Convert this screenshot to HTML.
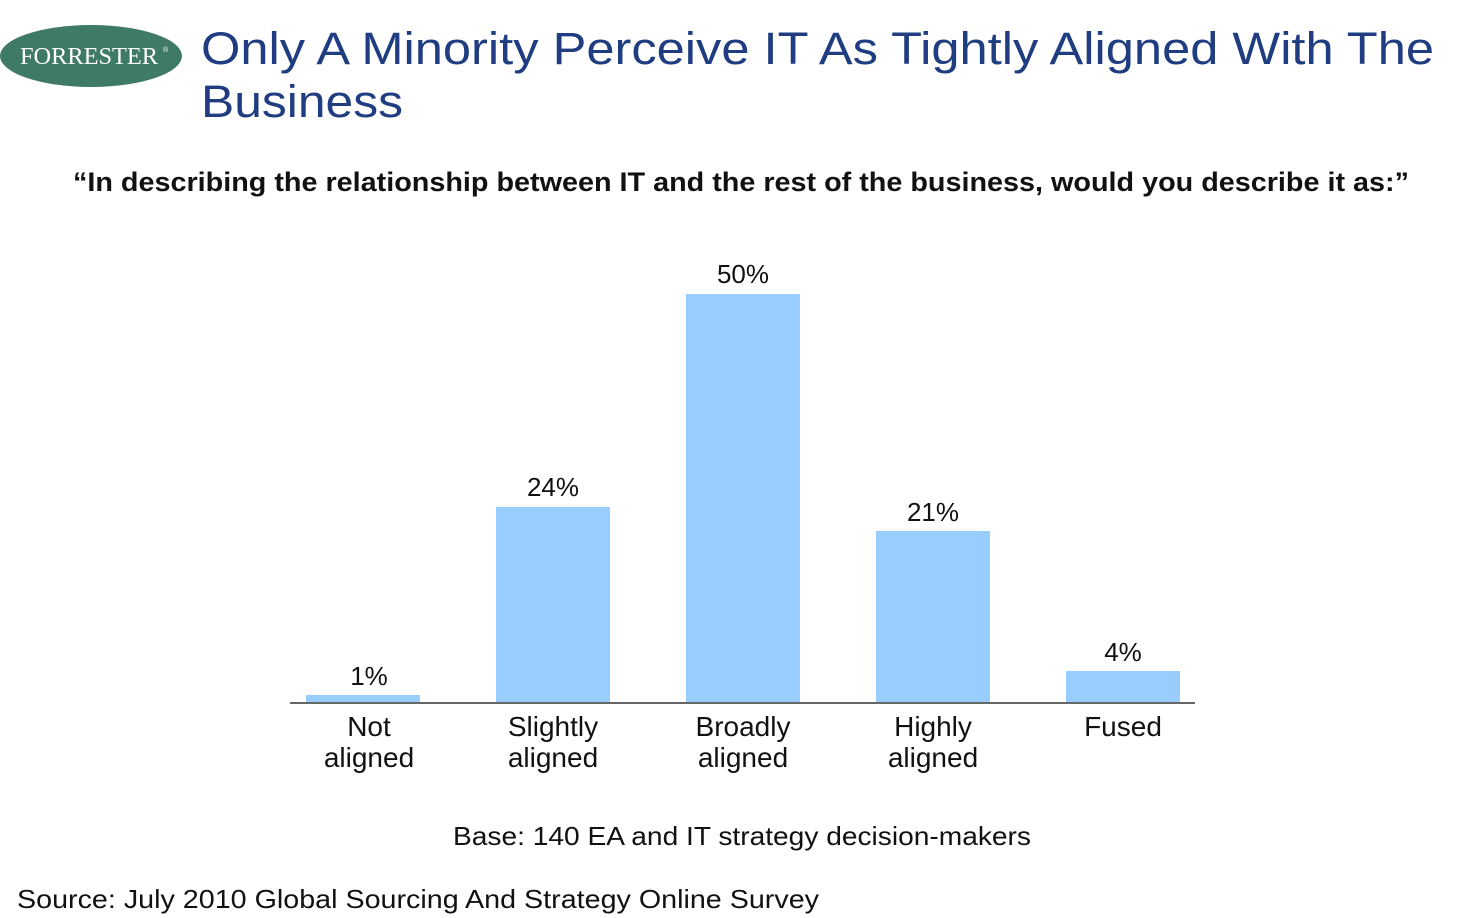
<!DOCTYPE html>
<html><head><style>
body{margin:0;background:#fff;}
svg{display:block}
</style></head><body>
<svg width="1478" height="918" xmlns="http://www.w3.org/2000/svg" font-family="Liberation Sans, sans-serif">
<ellipse cx="91" cy="56" rx="91" ry="31" fill="#3f7a65"/>
<text x="89" y="64" font-family="Liberation Serif, serif" font-size="24" fill="#fff" text-anchor="middle" textLength="138" lengthAdjust="spacingAndGlyphs">FORRESTER</text>
<text x="163" y="52" font-size="7" fill="#fff">®</text>
<text x="201" y="64" font-size="45" fill="#1f3d80" textLength="1233" lengthAdjust="spacingAndGlyphs">Only A Minority Perceive IT As Tightly Aligned With The</text>
<text x="201" y="117" font-size="45" fill="#1f3d80" textLength="202" lengthAdjust="spacingAndGlyphs">Business</text>
<text x="741" y="191" font-size="27" font-weight="bold" fill="#111" text-anchor="middle" textLength="1336" lengthAdjust="spacingAndGlyphs">“In describing the relationship between IT and the rest of the business, would you describe it as:”</text>
<g fill="#99ccff">
<rect x="306" y="695" width="114" height="8"/>
<rect x="496" y="507" width="114" height="196"/>
<rect x="686" y="294" width="114" height="409"/>
<rect x="876" y="531" width="114" height="172"/>
<rect x="1066" y="671" width="114" height="32"/>
</g>
<line x1="290" y1="703" x2="1195" y2="703" stroke="#666" stroke-width="2"/>
<g font-size="26" fill="#111" text-anchor="middle">
<text x="369" y="685">1%</text>
<text x="553" y="496">24%</text>
<text x="743" y="283">50%</text>
<text x="933" y="521">21%</text>
<text x="1123" y="661">4%</text>
<g font-size="28">
<text x="369" y="736">Not</text><text x="369" y="767">aligned</text>
<text x="553" y="736">Slightly</text><text x="553" y="767">aligned</text>
<text x="743" y="736">Broadly</text><text x="743" y="767">aligned</text>
<text x="933" y="736">Highly</text><text x="933" y="767">aligned</text>
<text x="1123" y="736">Fused</text>
</g>
<text x="742" y="845" textLength="578" lengthAdjust="spacingAndGlyphs">Base: 140 EA and IT strategy decision-makers</text>
</g>
<text x="17" y="908" font-size="26" fill="#111" textLength="802" lengthAdjust="spacingAndGlyphs">Source: July 2010 Global Sourcing And Strategy Online Survey</text>
</svg>
</body></html>
